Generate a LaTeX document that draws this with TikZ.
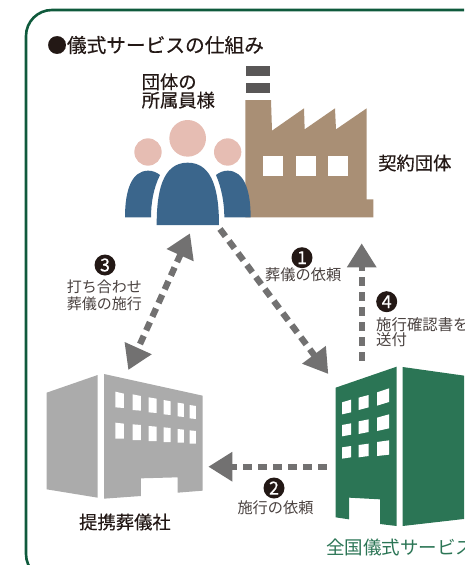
\documentclass[tikz,border=0pt]{standalone}
\usepackage{fontspec}
\setmainfont{Noto Sans CJK JP}
\newfontfamily\heavyfont[FakeBold=0.35]{Noto Sans CJK JP}
\usetikzlibrary{arrows.meta}
\definecolor{framegreen}{HTML}{0F5A3C}
\definecolor{bldggreen}{HTML}{2B7555}
\definecolor{bldggrey}{HTML}{ABABAB}
\definecolor{arrowgrey}{HTML}{727171}
\definecolor{factory}{HTML}{A98F75}
\definecolor{chimney}{HTML}{595757}
\definecolor{bodyblue}{HTML}{3B668C}
\definecolor{headpink}{HTML}{E6BDB3}
\definecolor{ink}{HTML}{231815}
\definecolor{inksoft}{HTML}{4A4240}
\tikzset{
  biglabel/.style={anchor=west,inner sep=0pt,text=ink,align=left,font=\heavyfont\fontsize{18.3}{18.3}\selectfont},
  smalllabel/.style={anchor=west,inner sep=0pt,text=inksoft,align=left,font=\fontsize{15.2}{16.5}\selectfont},
  numdot/.style={circle,fill=ink,text=white,minimum size=21pt,inner sep=0pt,font=\heavyfont\fontsize{18}{18}\selectfont},
  flow/.style={draw=arrowgrey,line width=6.3pt,dash pattern=on 9pt off 6pt,-{Triangle[length=24pt,width=28pt,fill=arrowgrey]}},
  flowboth/.style={draw=arrowgrey,line width=6.3pt,dash pattern=on 9pt off 6pt,{Triangle[length=24pt,width=28pt,fill=arrowgrey]}-{Triangle[length=24pt,width=28pt,fill=arrowgrey]}},
  zoomA/.style={shift={(120,60)},scale=1/3},
  zoomB/.style={shift={(30,360)},scale=1/3},
  zoomC/.style={shift={(200,230)},scale=1/3}
}
\begin{document}
\begin{tikzpicture}[x=1pt,y=-1pt]
\useasboundingbox (0,0) rectangle (464,565);
\begin{scope}
\clip (0,0) rectangle (464,565);
% frame
\draw[framegreen,line width=2.6pt,rounded corners=26pt] (26,10) rectangle (520,580);

% factory
\begin{scope}[zoomA]
\fill[chimney] (379,18) rectangle (450,47);
\fill[chimney] (379,68) rectangle (451,100);
\fill[factory] (376,120) -- (453,120) -- (456,212) -- (552,145) -- (554,208) -- (645,145) -- (648,208) -- (740,145) -- (740,418) -- (760,418) -- (760,472) -- (376,472) -- cycle;
\fill[white] (430,287) rectangle (490,347);
\fill[white] (527,287) rectangle (587,347);
\fill[white] (625,287) rectangle (685,347);
% people
\fill[headpink] (203,235) circle[radius=55];
\fill[headpink] (84,276) circle[radius=41];
\fill[headpink] (323,276) circle[radius=41];
\fill[bodyblue] (15,472) .. controls (15,390) and (35,332) .. (85,332) .. controls (98,332) and (110,337) .. (120,345) .. controls (100,385) and (93,430) .. (93,472) -- cycle;
\fill[bodyblue] (392,472) .. controls (392,390) and (372,332) .. (323,332) .. controls (310,332) and (298,337) .. (288,345) .. controls (305,385) and (313,430) .. (313,472) -- cycle;
\fill[bodyblue] (110,495) .. controls (110,400) and (125,308) .. (203,308) .. controls (281,308) and (297,400) .. (297,495) -- cycle;
\end{scope}

% grey building
\begin{scope}[zoomB]
\fill[bldggrey] (50,98) -- (203,45) -- (203,413) -- (50,388) -- cycle;
\fill[bldggrey] (222,42) -- (518,107) -- (518,392) -- (443,398) -- (443,352) -- (333,355) -- (333,408) -- (222,416) -- cycle;
\foreach \xa/\xb/\ya/\yb/\yc/\yd in {
  256/282/95/101/142/144, 308/333/103/108/150/152, 356/380/112/116/157/159,
  401/422/120/124/163/165, 443/462/128/131/169/171, 479/498/135/138/175/177,
  256/282/188/191/236/236, 308/333/193/195/240/240, 356/380/198/200/243/243,
  401/422/202/204/246/246, 443/462/207/209/248/248, 479/498/211/213/251/251}
  \fill[white] (\xa,\ya) -- (\xb,\yb) -- (\xb,\yd) -- (\xa,\yc) -- cycle;
\end{scope}

% green building
\begin{scope}[zoomC]
\fill[bldggreen] (407,473) -- (590,410) -- (590,888) -- (540,882) -- (540,808) -- (447,803) -- (447,868) -- (407,862) -- cycle;
\fill[bldggreen] (608,411) -- (800,438) -- (800,866) -- (608,888) -- cycle;
\foreach \xa/\xb/\ya/\yb/\yc/\yd in {
  426/453/517/509/553/547, 476/506/503/495/540/532, 531/567/487/475/527/516,
  426/453/585/580/619/614, 476/506/574/568/612/606, 531/567/563/553/603/595,
  426/453/652/648/686/682, 476/506/645/641/682/678, 531/567/636/631/678/674}
  \fill[white] (\xa,\ya) -- (\xb,\yb) -- (\xb,\yd) -- (\xa,\yc) -- cycle;
\end{scope}

% connector ends
\coordinate (memberOut) at (220,229);
\coordinate (centerIn) at (328.3,374);
\coordinate (centerOutL) at (326.7,466.7);
\coordinate (partnerIn) at (208.3,466.7);
\coordinate (memberSide) at (190,233.3);
\coordinate (partnerTop) at (128.3,370);
\coordinate (centerOutT) at (361.7,360.7);
\coordinate (clientIn) at (361.7,243.3);
\draw[flow] (memberOut) -- (centerIn);
\draw[flow] (centerOutL) -- (partnerIn);
\draw[flowboth] (memberSide) -- (partnerTop);
\draw[flow] (centerOutT) -- (clientIn);

% labels
\node[biglabel,font=\heavyfont\fontsize{19.7}{19.7}\selectfont] (title) at (47,45) {●儀式サービスの仕組み};
\node[biglabel,align=left] (members) at (141.5,91) {団体の\\所属員様};
\node[biglabel] (client) at (378,163) {契約団体};
\node[biglabel] (partner) at (79,522) {提携葬儀社};
\node[biglabel,text=bldggreen,font=\fontsize{18.5}{18.5}\selectfont] (center) at (326,547) {全国儀式サービス};

\node[numdot] (n1) at (302,257.7) {1};
\node[smalllabel] (l1) at (265,275) {葬儀の依頼};
\node[numdot] (n2) at (274,488) {2};
\node[smalllabel] (l2) at (237.3,508) {施行の依頼};
\node[numdot] (n3) at (105,265) {3};
\node[smalllabel,font=\fontsize{15}{17.6}\selectfont] (l3) at (66.7,295.5) {打ち合わせ\\葬儀の施行};
\node[numdot] (n4) at (386.7,301.7) {4};
\node[smalllabel,font=\fontsize{15.4}{15}\selectfont] (l4) at (376,332.5) {施行確認書を\\送付};
\end{scope}
\end{tikzpicture}
\end{document}
